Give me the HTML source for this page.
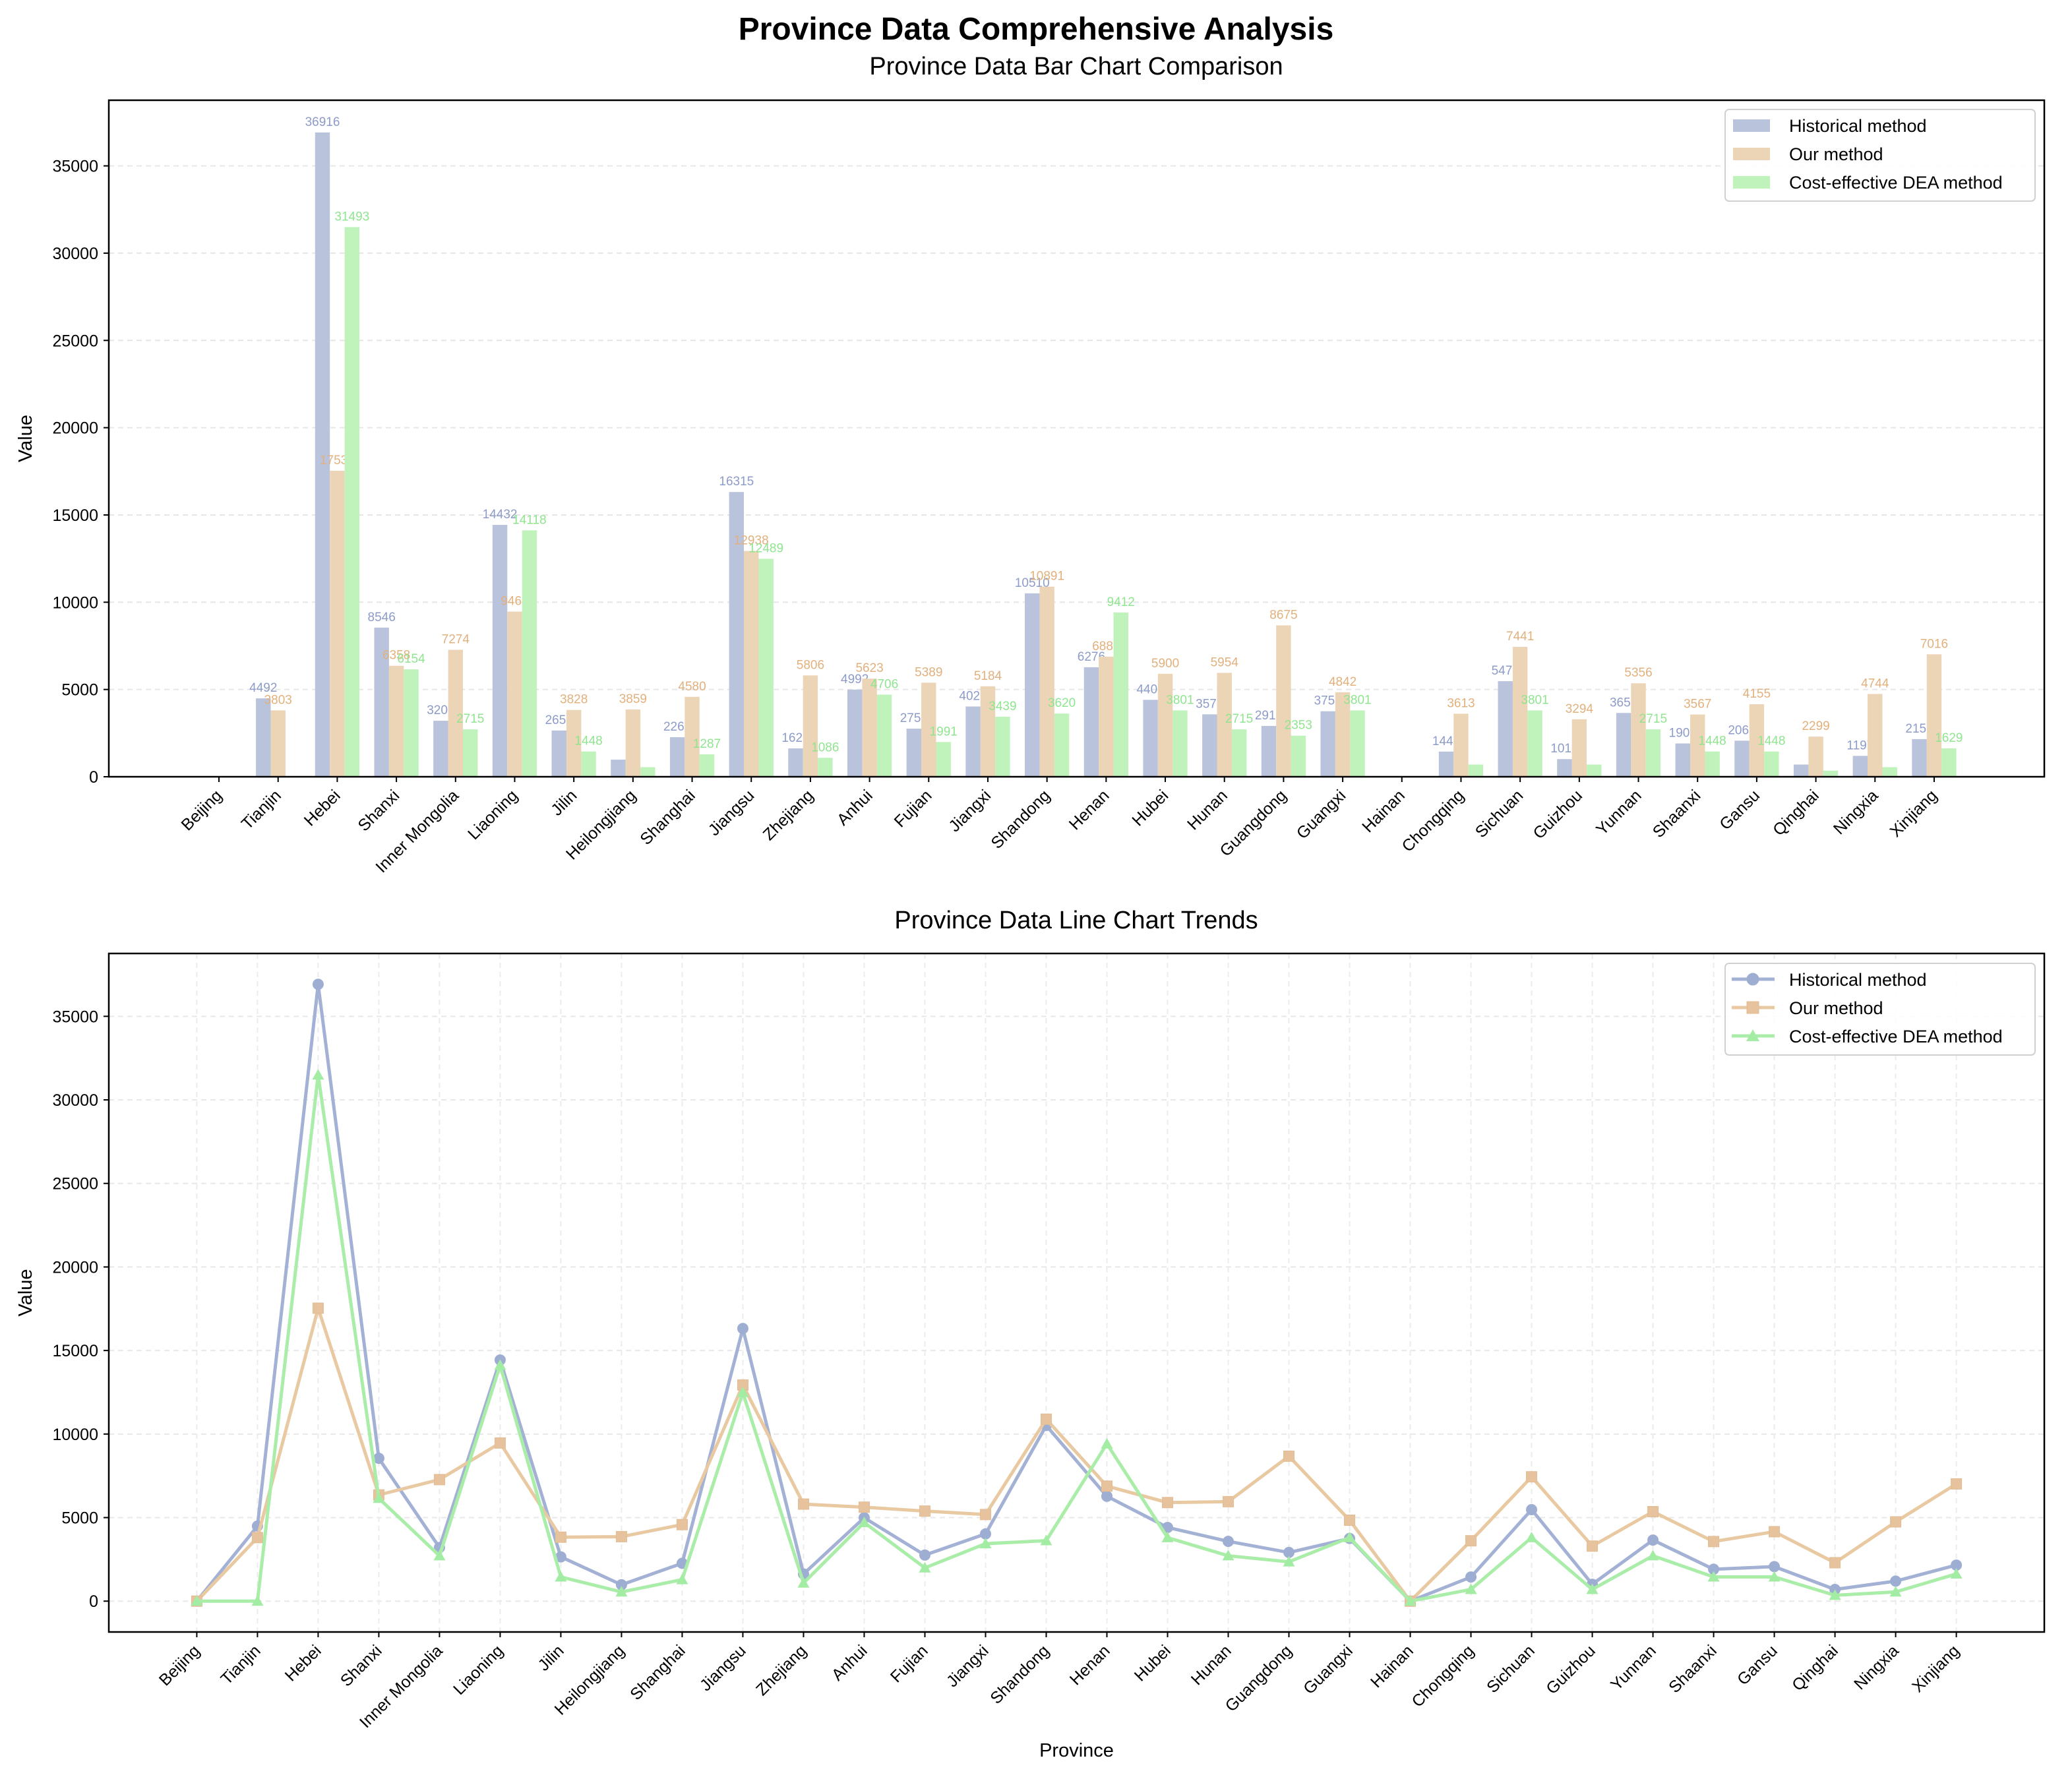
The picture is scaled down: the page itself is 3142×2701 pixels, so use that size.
<!DOCTYPE html>
<html><head><meta charset="utf-8"><style>
html,body{margin:0;padding:0;background:#fff}
svg{display:block;font-family:"Liberation Sans",Arial,sans-serif}
</style></head><body>
<svg id="fig" width="3142" height="2701" viewBox="0 0 3142 2701" xmlns="http://www.w3.org/2000/svg">
<rect width="3142" height="2701" fill="#fff"/>
<text x="1571" y="60" text-anchor="middle" font-size="48" font-weight="bold">Province Data Comprehensive Analysis</text>
<text x="1632" y="113" text-anchor="middle" font-size="38">Province Data Bar Chart Comparison</text>
<text x="1632" y="1408" text-anchor="middle" font-size="38">Province Data Line Chart Trends</text>
<g id="topChart"></g>
<g id="botChart"></g>
</svg>
<script>
const provinces = ["Beijing","Tianjin","Hebei","Shanxi","Inner Mongolia","Liaoning","Jilin","Heilongjiang","Shanghai","Jiangsu","Zhejiang","Anhui","Fujian","Jiangxi","Shandong","Henan","Hubei","Hunan","Guangdong","Guangxi","Hainan","Chongqing","Sichuan","Guizhou","Yunnan","Shaanxi","Gansu","Qinghai","Ningxia","Xinjiang"];
const historical = [0,4492,36916,8546,3209,14432,2650,980,2265,16315,1625,4992,2756,4025,10510,6276,4408,3577,2913,3751,0,1443,5476,1012,3655,1908,2066,700,1197,2157];
const ours = [0,3803,17532,6358,7274,9464,3828,3859,4580,12938,5806,5623,5389,5184,10891,6883,5900,5954,8675,4842,0,3613,7441,3294,5356,3567,4155,2299,4744,7016];
const dea = [0,0,31493,6154,2715,14118,1448,550,1287,12489,1086,4706,1991,3439,3620,9412,3801,2715,2353,3801,0,700,3801,700,2715,1448,1448,350,550,1629];
const yTicks = [0,5000,10000,15000,20000,25000,30000,35000];
const seriesNames = ["Historical method","Our method","Cost-effective DEA method"];

const NS="http://www.w3.org/2000/svg";
function mk(parent,tag,attrs,text){const e=document.createElementNS(NS,tag);for(const k in attrs)e.setAttribute(k,attrs[k]);if(text!==undefined)e.textContent=text;parent.appendChild(e);return e;}
const series=[historical,ours,dea];
const barFill=["#b9c3dc","#ecd4b6","#bff3bb"];
const lblCol=["#8d9bc8","#e2b07c","#8fe58f"];
const lineCol=["#a3b1d5","#e8c9a1","#a9eda9"];
const L=165,R=3100;
const dmax=Math.max(...historical,...ours,...dea);
const TF=25;

function marker(p,k,cx,cy,r){
  if(k===0) mk(p,'circle',{cx:cx,cy:cy,r:r,fill:"#9eaed3",stroke:"#9eaed3"});
  else if(k===1) mk(p,'rect',{x:cx-r,y:cy-r,width:2*r,height:2*r,fill:"#e6c39c",stroke:"#e2bd96"});
  else mk(p,'polygon',{points:`${cx},${cy-r-1} ${cx-r-1},${cy+r-1} ${cx+r+1},${cy+r-1}`,fill:"#a3eca3"});
}
function legend(parent,x,y,line){
  const g=mk(parent,'g',{});
  
  
  mk(g,'rect',{x:x,y:y,width:470,height:139,rx:6,fill:"#fff","fill-opacity":0.85,stroke:"#d0d0d0","stroke-width":2});
  seriesNames.forEach((n,k)=>{
    const yy=y+24+k*43;
    const e=mk(g,'g',{});
    
    
    if(line){
      mk(e,'line',{x1:x+10,x2:x+75,y1:yy,y2:yy,stroke:lineCol[k],"stroke-width":5});
      marker(e,k,x+42,yy,9);
    } else {
      mk(e,'rect',{x:x+12,y:yy-9,width:56,height:19,fill:barFill[k]});
    }
    mk(e,'text',{x:x+97,y:yy+10,"font-size":27},n);
  });
}

// ---------- bar chart ----------
const topG=document.getElementById('topChart');
const T1=152,B1=1178;
const ymax1=dmax*1.05;
const y1=v=>B1-v/ymax1*(B1-T1);
const xmin1=-0.375-0.05*(29.75), xmax1=29.375+0.05*29.75;
const x1=i=>L+(i-xmin1)/(xmax1-xmin1)*(R-L);
yTicks.forEach(t=>{
  const g=mk(topG,'line',{x1:L,x2:R,y1:y1(t),y2:y1(t),stroke:"#e6e6e6","stroke-width":2,"stroke-dasharray":"8,6"});
  
  
  mk(topG,'line',{x1:L-8,x2:L,y1:y1(t),y2:y1(t),stroke:"#000","stroke-width":2});
  const tl=mk(topG,'text',{x:L-16,y:y1(t)+9,"text-anchor":"end","font-size":TF},String(t));
  
  
});
const bw=(x1(1)-x1(0))*0.25;
series.forEach((s,k)=>{
  s.forEach((v,i)=>{
    const cx=x1(i)+(k-1)*bw;
    const r=mk(topG,'rect',{x:cx-bw/2,y:y1(v),width:bw,height:B1-y1(v),fill:barFill[k]});
    
    
    if(v>1000){
      const t=mk(topG,'text',{x:cx,y:y1(v)-10,"text-anchor":"middle","font-size":19,fill:lblCol[k]},String(v));
      
      
    }
  });
});
provinces.forEach((p,i)=>{
  mk(topG,'line',{x1:x1(i),x2:x1(i),y1:B1,y2:B1+8,stroke:"#000","stroke-width":2});
  const t=mk(topG,'text',{x:x1(i)+6,y:B1+30,"text-anchor":"end","font-size":TF,transform:`rotate(-45 ${x1(i)+6} ${B1+30})`},p);
  
  
});
mk(topG,'rect',{x:L,y:T1,width:R-L,height:B1-T1,fill:"none",stroke:"#000","stroke-width":2.5});
const yl1=mk(topG,'text',{x:48,y:(T1+B1)/2,"text-anchor":"middle","font-size":29,transform:`rotate(-90 48 ${(T1+B1)/2})`},"Value");


legend(topG,2616,166,false);

// ---------- line chart ----------
const botG=document.getElementById('botChart');
const T2=1446,B2=2475;
const ymin2=-dmax*0.05,ymax2=dmax*1.05;
const y2=v=>B2-(v-ymin2)/(ymax2-ymin2)*(B2-T2);
const xmin2=-29*0.05,xmax2=29*1.05;
const x2=i=>L+(i-xmin2)/(xmax2-xmin2)*(R-L);
yTicks.forEach(t=>{
  const g=mk(botG,'line',{x1:L,x2:R,y1:y2(t),y2:y2(t),stroke:"#e8e8e8","stroke-width":2,"stroke-dasharray":"8,6"});
  
  
  mk(botG,'line',{x1:L-8,x2:L,y1:y2(t),y2:y2(t),stroke:"#000","stroke-width":2});
  const tl=mk(botG,'text',{x:L-16,y:y2(t)+9,"text-anchor":"end","font-size":TF},String(t));
  
  
});
provinces.forEach((p,i)=>{
  const g=mk(botG,'line',{x1:x2(i),x2:x2(i),y1:T2,y2:B2,stroke:"#ececec","stroke-width":2,"stroke-dasharray":"8,6"});
  
  
  mk(botG,'line',{x1:x2(i),x2:x2(i),y1:B2,y2:B2+8,stroke:"#000","stroke-width":2});
  const t=mk(botG,'text',{x:x2(i)+6,y:B2+30,"text-anchor":"end","font-size":TF,transform:`rotate(-45 ${x2(i)+6} ${B2+30})`},p);
  
  
});
series.forEach((s,k)=>{
  const pl=mk(botG,'polyline',{points:s.map((v,i)=>x2(i)+','+y2(v)).join(' '),fill:"none",stroke:lineCol[k],"stroke-width":5,"stroke-linejoin":"round"});
  
  
  s.forEach((v,i)=>{
    const g=mk(botG,'g',{});
    
    
    marker(g,k,x2(i),y2(v),8);
  });
});
mk(botG,'rect',{x:L,y:T2,width:R-L,height:B2-T2,fill:"none",stroke:"#000","stroke-width":2.5});
const yl2=mk(botG,'text',{x:48,y:(T2+B2)/2,"text-anchor":"middle","font-size":29,transform:`rotate(-90 48 ${(T2+B2)/2})`},"Value");


const xl=mk(botG,'text',{x:(L+R)/2,y:2664,"text-anchor":"middle","font-size":29},"Province");


legend(botG,2616,1461,true);
</script>
</body></html>
